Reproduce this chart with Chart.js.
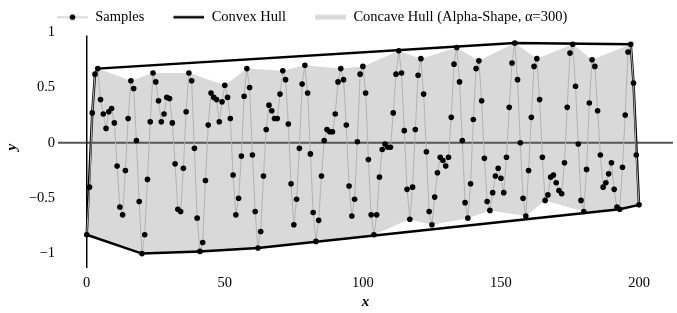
<!DOCTYPE html>
<html>
<head>
<meta charset="utf-8">
<script src="https://cdn.jsdelivr.net/npm/chart.js@4.4.1/dist/chart.umd.min.js"></script>
<style>
  html, body { margin: 0; padding: 0; background: #fff; }
</style>
</head>
<body>
<canvas id="chart" width="677" height="313"></canvas>
<script>
// valores (x = 0..200, un punto por unidad)
const sampleY = [
  -0.83, -0.40, 0.27, 0.62, 0.67, 0.39, 0.26, 0.13, 0.28, 0.31,
  0.18, -0.21, -0.58, -0.65, -0.25, 0.22, 0.56, 0.49, 0.02, -0.53,
  -1.00, -0.83, -0.33, 0.19, 0.63, 0.55, 0.38, 0.19, 0.26, 0.41,
  0.40, 0.18, -0.19, -0.60, -0.62, -0.23, 0.28, 0.63, 0.56, -0.05,
  -0.68, -0.98, -0.90, -0.34, 0.16, 0.45, 0.41, 0.39, 0.19, 0.37,
  0.52, 0.41, 0.22, -0.29, -0.65, -0.50, -0.12, 0.42, 0.67, 0.50,
  -0.11, -0.62, -0.95, -0.80, -0.30, 0.12, 0.34, 0.29, 0.22, 0.22,
  0.44, 0.65, 0.57, 0.17, -0.37, -0.74, -0.51, -0.05, 0.53, 0.70,
  0.45, -0.10, -0.63, -0.89, -0.70, -0.30, 0.02, 0.12, 0.10, 0.10,
  0.26, 0.55, 0.67, 0.57, 0.16, -0.39, -0.66, -0.51, 0.01, 0.62,
  0.69, 0.45, -0.15, -0.65, -0.83, -0.65, -0.31, -0.06, -0.01, -0.04,
  -0.04, 0.27, 0.62, 0.83, 0.63, 0.11, -0.42, -0.69, -0.40, 0.12,
  0.61, 0.76, 0.44, -0.08, -0.62, -0.74, -0.49, -0.27, -0.13, -0.16,
  -0.21, -0.13, 0.23, 0.71, 0.86, 0.55, 0.02, -0.54, -0.68, -0.37,
  0.21, 0.67, 0.74, 0.38, -0.14, -0.53, -0.61, -0.45, -0.30, -0.23,
  -0.32, -0.45, -0.13, 0.32, 0.72, 0.90, 0.57, 0.00, -0.50, -0.66,
  -0.25, 0.23, 0.69, 0.76, 0.39, -0.13, -0.52, -0.47, -0.31, -0.29,
  -0.36, -0.43, -0.46, -0.18, 0.32, 0.81, 0.89, 0.51, -0.01, -0.52,
  -0.62, -0.24, 0.36, 0.75, 0.69, 0.29, -0.11, -0.40, -0.36, -0.28,
  -0.18, -0.42, -0.58, -0.60, -0.22, 0.25, 0.82, 0.89, 0.54, -0.11,
  -0.56
]
const sampleX = sampleY.map((_, i) => i)

// vértices del casco cóncavo (índices de muestras, en orden)
const concaveIdx = [
  0, 1, 2, 3, 4, 16, 24, 37, 50, 58, 71, 79, 92, 100, 113, 121, 134, 142,
  155, 163, 176, 183, 197, 198, 199, 200,
  193, 180, 166, 159, 146, 138, 125, 117, 104, 83, 62, 41, 20, 0
]

const xTicks = [0, 50, 100, 150, 200]
const yTicks = [-1, -0.5, 0, 0.5, 1]
const labels = ['Samples', 'Convex Hull', 'Concave Hull (Alpha-Shape, \u03b1=300)']

const FONT = "'Liberation Serif', 'Times New Roman', serif"
Chart.defaults.font.family = FONT
Chart.defaults.font.size = 14.5
Chart.defaults.color = '#000'

const samples = sampleX.map((x, i) => ({ x, y: sampleY[i] }))

// casco convexo (monotone chain)
function convexHull(pts) {
  const p = pts.slice().sort((a, b) => a.x - b.x || a.y - b.y)
  const cross = (o, a, b) => (a.x - o.x) * (b.y - o.y) - (a.y - o.y) * (b.x - o.x)
  const lower = [], upper = []
  for (const q of p) {
    while (lower.length >= 2 && cross(lower[lower.length - 2], lower[lower.length - 1], q) <= 0) lower.pop()
    lower.push(q)
  }
  for (const q of p.slice().reverse()) {
    while (upper.length >= 2 && cross(upper[upper.length - 2], upper[upper.length - 1], q) <= 0) upper.pop()
    upper.push(q)
  }
  upper.pop(); lower.pop()
  const h = lower.concat(upper)
  h.push(h[0])
  return h
}
const hull = convexHull(samples)
const concave = concaveIdx.map(i => samples[i])

// iconos de la leyenda
const ICON_PAD = 27, ICON_W = 31
function icon(draw) {
  const c = document.createElement('canvas')
  c.width = ICON_PAD + ICON_W; c.height = 14
  const g = c.getContext('2d')
  draw(g, ICON_PAD, ICON_PAD + ICON_W, 7)
  return c
}
const icons = [
  icon((g, a, b, y) => {
    g.strokeStyle = '#b3b3b3'; g.lineWidth = 1
    g.beginPath(); g.moveTo(a, y); g.lineTo(b, y); g.stroke()
    g.fillStyle = '#000'; g.beginPath(); g.arc((a + b) / 2, y, 2.8, 0, Math.PI * 2); g.fill()
  }),
  icon((g, a, b, y) => {
    g.strokeStyle = '#000'; g.lineWidth = 2.5
    g.beginPath(); g.moveTo(a, y); g.lineTo(b, y); g.stroke()
  }),
  icon((g, a, b, y) => {
    g.fillStyle = '#d9d9d9'; g.fillRect(a, y - 2.5, b - a, 5)
  })
]

// ejes en cero, dibujados encima del relleno
const zeroLines = {
  id: 'zeroLines',
  afterDatasetDraw(chart, args) {
    if (args.index !== 2) return
    const { ctx, chartArea, scales } = chart
    const y0 = scales.y.getPixelForValue(0)
    const x0 = scales.x.getPixelForValue(0)
    ctx.save()
    ctx.strokeStyle = '#555'; ctx.lineWidth = 2
    ctx.beginPath(); ctx.moveTo(chartArea.left, y0); ctx.lineTo(chartArea.right, y0); ctx.stroke()
    ctx.strokeStyle = '#000'; ctx.lineWidth = 1.5
    ctx.beginPath(); ctx.moveTo(x0, chartArea.top + 9); ctx.lineTo(x0, chartArea.bottom); ctx.stroke()
    ctx.restore()
  }
}

const legendShift = {
  id: 'legendShift',
  afterLayout(chart) {
    const l = chart.legend
    l.left += 28; l.right += 28
    l.top += 8; l.bottom += 8
  }
}

new Chart(document.getElementById('chart'), {
  type: 'line',
  data: {
    datasets: [
      {
        label: labels[0], data: samples,
        borderColor: '#b3b3b3', borderWidth: 1,
        pointRadius: 2.8, pointBackgroundColor: '#000', pointBorderWidth: 0,
        fill: false, tension: 0
      },
      {
        label: labels[1], data: hull,
        borderColor: '#000', borderWidth: 2.5, pointRadius: 0, fill: false, tension: 0
      },
      {
        label: labels[2], data: concave,
        borderColor: 'transparent', borderWidth: 0, backgroundColor: '#d9d9d9',
        pointRadius: 0, fill: 'shape', tension: 0
      }
    ]
  },
  options: {
    responsive: false,
    animation: false,
    events: [],
    layout: { padding: { top: 0, right: 0, left: 0, bottom: 0 } },
    plugins: {
      tooltip: { enabled: false },
      legend: {
        align: 'start',
        labels: {
          usePointStyle: true,
          pointStyleWidth: ICON_PAD + ICON_W,
          padding: 2,
          generateLabels: chart => chart.data.datasets.map((ds, i) => ({
            text: ds.label, pointStyle: icons[i], datasetIndex: i,
            fillStyle: 'transparent', strokeStyle: 'transparent', lineWidth: 0
          }))
        }
      }
    },
    scales: {
      x: {
        type: 'linear', min: -10.4, max: 212.3,
        afterBuildTicks: axis => { axis.ticks = xTicks.map(v => ({ value: v })) },
        afterFit: axis => { axis.height = 45 },
        grid: { display: false, drawTicks: false },
        border: { display: false },
        ticks: { padding: 6, maxRotation: 0, callback: v => String(v) },
        title: { display: true, text: 'x', font: { style: 'italic', weight: 'bold', size: 15 }, padding: { top: 0, bottom: 2 } }
      },
      y: {
        type: 'linear', min: -1.13, max: 1.05,
        afterBuildTicks: axis => { axis.ticks = yTicks.map(v => ({ value: v })) },
        afterFit: axis => { axis.width = 58 },
        grid: { display: false, drawTicks: false },
        border: { display: false },
        ticks: { padding: 3, callback: v => (v < 0 ? '\u2212' : '') + Math.abs(v) },
        title: { display: true, text: 'y', font: { style: 'italic', weight: 'bold', size: 15 }, padding: { top: 3, bottom: 0 } }
      }
    }
  },
  plugins: [zeroLines, legendShift]
})
</script>
</body>
</html>
